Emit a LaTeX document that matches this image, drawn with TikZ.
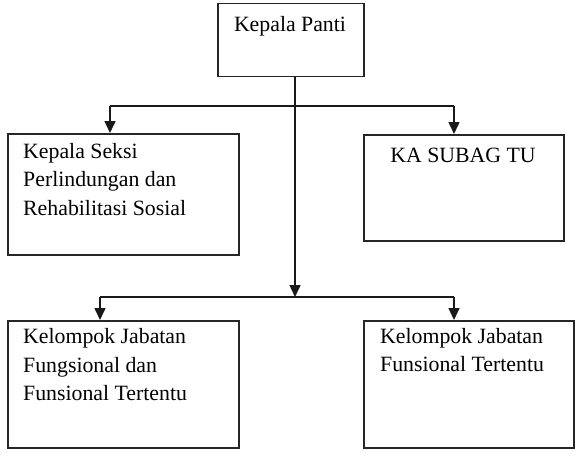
\documentclass[tikz,border=0pt]{standalone}
\usepackage{fontspec}
\setmainfont{Liberation Serif}
\usetikzlibrary{arrows.meta,calc}
\begin{document}
\begin{tikzpicture}[x=1pt,y=1pt,
  box/.style={draw=black!85, line width=1.5pt, inner sep=0pt, anchor=north west},
  txt/.style={inner sep=0pt, anchor=north west, align=left, font=\fontsize{21.8}{28.5}\selectfont, execute at begin node=\strut},
  txtc/.style={inner sep=0pt, anchor=base, font=\fontsize{21.8}{28.5}\selectfont},
  ln/.style={draw=black!90, line width=1.5pt},
  arr/.style={ln, -{Triangle[length=12pt,width=11pt]}}]
\useasboundingbox (0,0) rectangle (577,-468);
% boxes
\node[box, minimum width=146pt, minimum height=73pt] (P) at (217,-3) {};
\node[box, minimum width=231pt, minimum height=121pt] (A) at (7,-133) {};
\node[box, minimum width=200pt, minimum height=106pt] (B) at (363,-134) {};
\node[box, minimum width=231pt, minimum height=127pt] (C) at (7,-320) {};
\node[box, minimum width=210pt, minimum height=127pt] (D) at (363,-320) {};
% texts
\node[txtc] (tP) at (290,-32) {Kepala Panti};
\node[txt] (tA) at ($(A.north west)+(16,-9.75)$) {Kepala Seksi\\Perlindungan dan\\Rehabilitasi Sosial};
\node[txtc] (tB) at (463,-162.7) {KA SUBAG TU};
\node[txt] (tC) at ($(C.north west)+(16,-8.4)$) {Kelompok Jabatan\\Fungsional dan\\Funsional Tertentu};
\node[txt] (tD) at ($(D.north west)+(17,-8.1)$) {Kelompok Jabatan\\Funsional Tertentu};
% junction points
\coordinate (j1) at (295,-106);
\coordinate (j2) at (295,-297);
\coordinate (l1) at (110,-106);
\coordinate (r1) at (454,-106);
\coordinate (l2) at (100,-297);
\coordinate (r2) at (454,-297);
% connectors
\draw[arr] (P.south -| j1) -- (j2);
\draw[ln] (l1) -- (r1);
\draw[arr] (l1) -- (l1 |- A.north);
\draw[arr] (r1) -- (r1 |- B.north);
\draw[ln] (l2) -- (r2);
\draw[arr] (l2) -- (l2 |- C.north);
\draw[arr] (r2) -- (r2 |- D.north);
\end{tikzpicture}
\end{document}
